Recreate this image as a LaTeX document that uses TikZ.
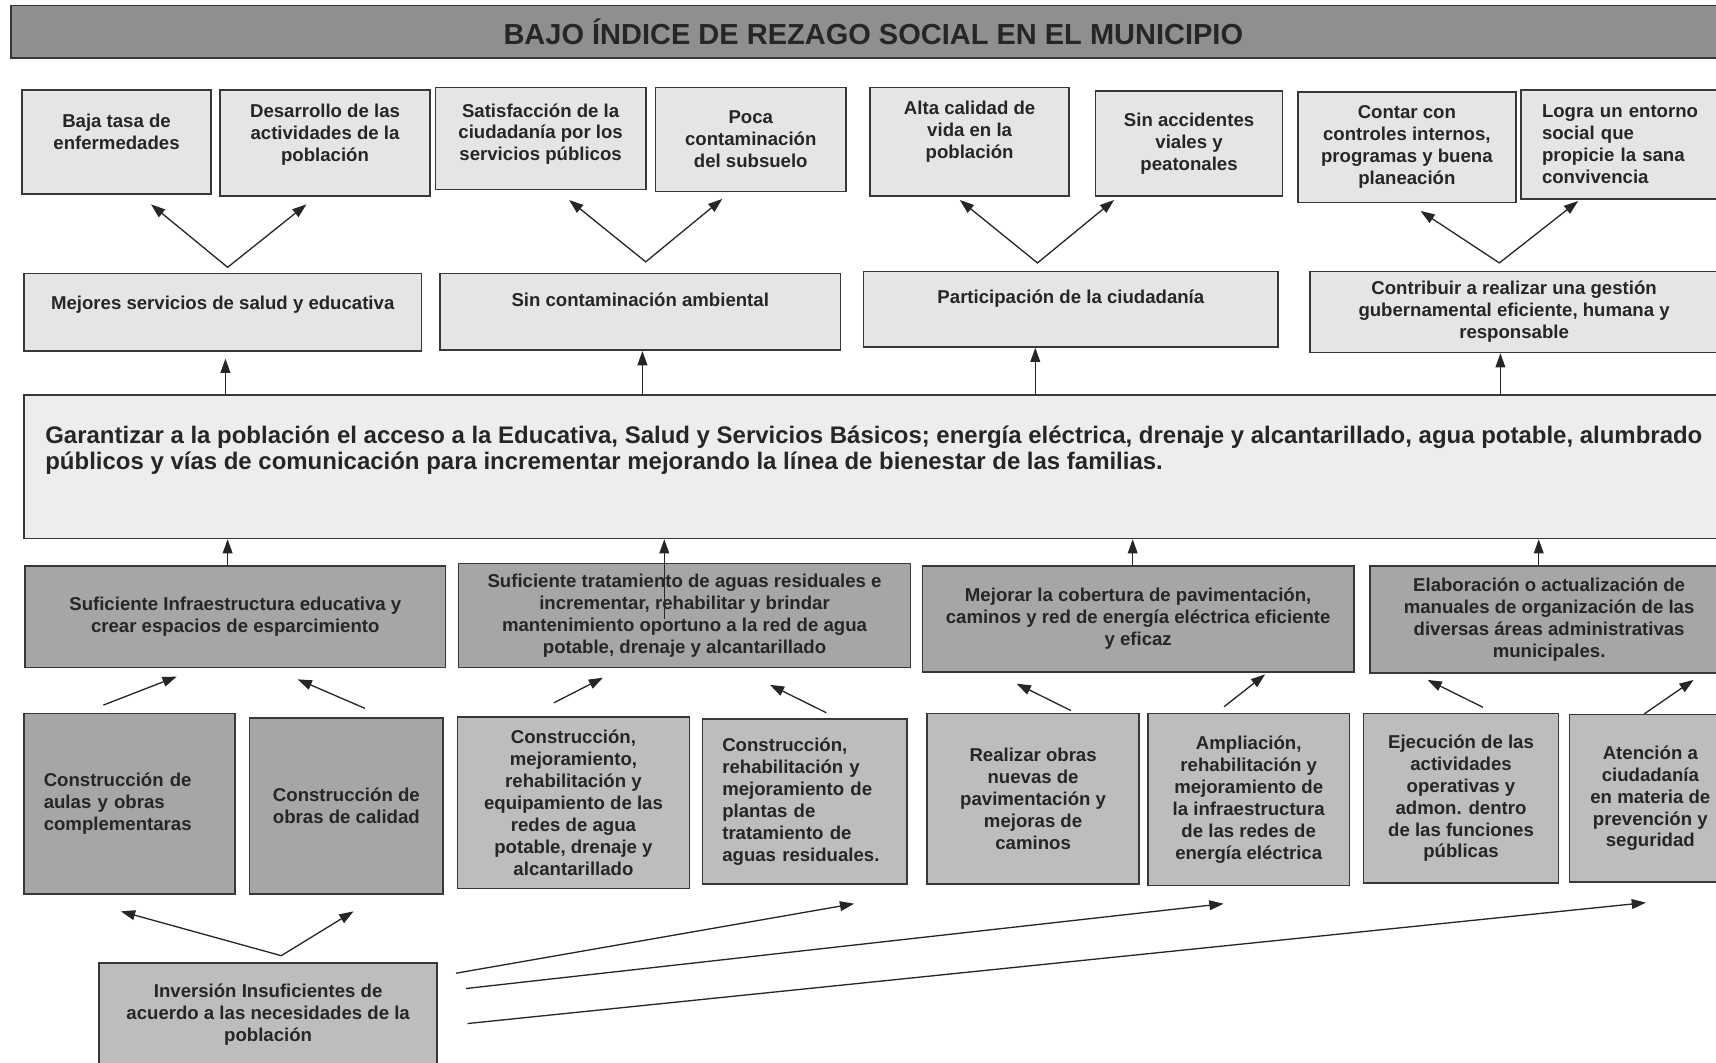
\documentclass[tikz,border=0pt]{standalone}
\usepackage{fontspec}
\setmainfont{Liberation Sans}
\usetikzlibrary{arrows.meta}

\definecolor{barfill}{gray}{0.56}
\definecolor{lightfill}{gray}{0.90}
\definecolor{mainfill}{gray}{0.93}
\definecolor{midfill}{gray}{0.65}
\definecolor{lowfill}{gray}{0.74}
\definecolor{edge}{gray}{0.22}

\begin{document}
\begin{tikzpicture}[x=1pt, y=-1pt,
    >={Triangle[length=13pt,width=9pt]},
    box/.style={draw=edge, line width=1.5pt, inner sep=2pt, align=center, text=black!85,
        font=\fontsize{17}{20}\selectfont\bfseries},
    effect/.style={box, fill=lightfill},
    cause/.style={box, fill=midfill},
    action/.style={box, fill=lowfill},
    lift/.style 2 args={text height=#1, text depth=#2},
    arr/.style={->, line width=1.2pt, draw=black!85}]
    \useasboundingbox (0,0) rectangle (1568,971);

    \node[box, fill=barfill, font=\fontsize{26.5}{30}\selectfont\bfseries, minimum width=1576pt, minimum height=48pt] (title) at (798,29) {BAJO ÍNDICE DE REZAGO SOCIAL EN EL MUNICIPIO};

    \node[effect, lift={32pt}{18pt}, minimum width=173pt, minimum height=95pt] (b1) at (106.5,129.5) {Baja tasa de\\enfermedades};
    \node[effect, lift={52pt}{18pt}, minimum width=192pt, minimum height=97pt] (b2) at (297,130.5) {Desarrollo de las\\actividades de la\\población};
    \node[effect, lift={52pt}{11pt}, minimum width=192pt, minimum height=93pt] (b3) at (494,126.5) {Satisfacción de la\\ciudadanía por los\\servicios públicos};
    \node[effect, minimum width=174pt, minimum height=95pt] (b4) at (686,127.5) {Poca\\contaminación\\del subsuelo};
    \node[effect, lift={52pt}{21pt}, minimum width=182pt, minimum height=99pt] (b5) at (886,129.5) {Alta calidad de\\vida en la\\población};
    \node[effect, minimum width=171pt, minimum height=96pt] (b6) at (1086.5,131) {Sin accidentes\\viales y\\peatonales};
    \node[effect, minimum width=199pt, minimum height=101pt] (b7) at (1285.5,134.5) {Contar con\\controles internos,\\programas y buena\\planeación};
    \node[effect, align=left, text width=148pt, minimum width=186pt, minimum height=100pt] (b8) at (1483,132) {Logra un entorno\\social que\\propicie la sana\\convivencia};

    \node[effect, lift={12pt}{18pt}, minimum width=363pt, minimum height=71pt] (m1) at (203.5,285.5) {Mejores servicios de salud y educativa};
    \node[effect, lift={12pt}{21pt}, minimum width=366pt, minimum height=70pt] (m2) at (585,285) {Sin contaminación ambiental};
    \node[effect, lift={12pt}{22pt}, minimum width=379pt, minimum height=69pt] (m3) at (978.5,282.5) {Participación de la ciudadanía};
    \node[effect, minimum width=373pt, minimum height=74pt] (m4) at (1383.5,285) {Contribuir a realizar una gestión\\gubernamental eficiente, humana y\\responsable};

    \node[effect, fill=mainfill, align=left, font=\fontsize{21.9}{24}\selectfont\bfseries, lift={40pt}{35pt}, minimum width=1553pt, minimum height=131pt] (g) at (798.5,426.5) {Garantizar a la población el acceso a la Educativa, Salud y Servicios Básicos; energía eléctrica, drenaje y alcantarillado, agua potable, alumbrado\\públicos y vías de comunicación para incrementar mejorando la línea de bienestar de las familias.};

    \node[cause, minimum width=384pt, minimum height=93pt] (s1) at (215,563.5) {Suficiente Infraestructura educativa y\\crear espacios de esparcimiento};
    \node[cause, minimum width=413pt, minimum height=95pt] (s2) at (625.5,562.5) {Suficiente tratamiento de aguas residuales e\\incrementar, rehabilitar y brindar\\mantenimiento oportuno a la red de agua\\potable, drenaje y alcantarillado};
    \node[cause, minimum width=394pt, minimum height=97pt] (s3) at (1040,565.5) {Mejorar la cobertura de pavimentación,\\caminos y red de energía eléctrica eficiente\\y eficaz};
    \node[cause, minimum width=327pt, minimum height=98pt] (s4) at (1415.5,566) {Elaboración o actualización de\\manuales de organización de las\\diversas áreas administrativas\\municipales.};

    \node[cause, align=left, text width=157pt, minimum width=193pt, minimum height=165pt] (a1) at (118.5,734.5) {Construcción de\\aulas y obras\\complementaras};
    \node[cause, minimum width=177pt, minimum height=161pt] (a2) at (316.5,736.5) {Construcción de\\obras de calidad};
    \node[action, minimum width=212pt, minimum height=157pt] (a3) at (524,733.5) {Construcción,\\mejoramiento,\\rehabilitación y\\equipamiento de las\\redes de agua\\potable, drenaje y\\alcantarillado};
    \node[action, align=left, text width=151pt, minimum width=187pt, minimum height=151pt] (a4) at (735.5,732.5) {Construcción,\\rehabilitación y\\mejoramiento de\\plantas de\\tratamiento de\\aguas residuales.};
    \node[action, minimum width=194pt, minimum height=156pt] (a5) at (944,730) {Realizar obras\\nuevas de\\pavimentación y\\mejoras de\\caminos};
    \node[action, minimum width=184pt, minimum height=157pt] (a6) at (1141,730.5) {Ampliación,\\rehabilitación y\\mejoramiento de\\la infraestructura\\de las redes de\\energía eléctrica};
    \node[action, minimum width=178pt, minimum height=155pt] (a7) at (1335,729.5) {Ejecución de las\\actividades\\operativas y\\admon. dentro\\de las funciones\\públicas};
    \node[action, minimum width=148pt, minimum height=153pt] (a8) at (1508,729.5) {Atención a\\ciudadanía\\en materia de\\prevención y\\seguridad};

    \node[action, minimum width=309pt, minimum height=94pt] (inv) at (245,927) {Inversión Insuficientes de\\acuerdo a las necesidades de la\\población};

    \draw[arr, <->] ([shift={(31.5,9)}]b1.south) -- ([shift={(4.5,-5)}]m1.north) -- ([shift={(-17,7)}]b2.south);
    \draw[arr, <->] ([shift={(26,9)}]b3.south) -- ([shift={(5,-10)}]m2.north) -- ([shift={(-26,6)}]b4.south);
    \draw[arr, <->] ([shift={(-9,3)}]b5.south) -- ([shift={(-30.5,-7)}]m3.north) -- ([shift={(-68.5,3)}]b6.south);
    \draw[arr, <->] ([shift={(12.5,7)}]b7.south) -- ([shift={(-13.5,-7)}]m4.north) -- ([shift={(-41,1)}]b8.south);

    \draw[arr, shorten >=6pt] ([xshift=2.5pt]m1.south |- g.north) -- ([xshift=2.5pt]m1.south);
    \draw[arr] ([xshift=2pt]m2.south |- g.north) -- ([xshift=2pt]m2.south);
    \draw[arr] ([xshift=-32.5pt]m3.south |- g.north) -- ([xshift=-32.5pt]m3.south);
    \draw[arr] ([xshift=-12.5pt]m4.south |- g.north) -- ([xshift=-12.5pt]m4.south);

    \draw[arr] ([xshift=-7pt]s1.north) -- ([xshift=-7pt]s1.north |- g.south);
    \draw[arr] ([shift={(-18.5,3)}]s2.center) -- ([xshift=-18.5pt]s2.center |- g.south);
    \draw[arr] ([xshift=-5pt]s3.north) -- ([xshift=-5pt]s3.north |- g.south);
    \draw[arr] ([xshift=-9.5pt]s4.north) -- ([xshift=-9.5pt]s4.north |- g.south);

    \draw[arr] ([shift={(-24,-7)}]a1.north) -- ([shift={(-53.5,7.5)}]s1.south);
    \draw[arr] ([shift={(17,-8)}]a2.north) -- ([shift={(57,10)}]s1.south);
    \draw[arr] ([shift={(-18,-12)}]a3.north) -- ([shift={(-74.5,8.5)}]s2.south);
    \draw[arr] ([shift={(19.5,-5)}]a4.north) -- ([shift={(78,15)}]s2.south);
    \draw[arr] ([shift={(34.5,-2)}]a5.north) -- ([shift={(-111,10)}]s3.south);
    \draw[arr] ([shift={(-22.5,-5.5)}]a6.north) -- ([shift={(116,1.5)}]s3.south);
    \draw[arr] ([shift={(20,-5)}]a7.north) -- ([shift={(-111,5.5)}]s4.south);
    \draw[arr] ([shift={(-5.5,0)}]a8.north) -- ([shift={(132,5.5)}]s4.south);

    \draw[arr, <->] ([shift={(-8,15)}]a1.south) -- ([shift={(12,-6)}]inv.north) -- ([shift={(6.5,15)}]a2.south);
    \draw[arr] ([shift={(16.5,10)}]inv.north east) -- ([shift={(45,17)}]a4.south);
    \draw[arr] ([shift={(25.5,24)}]inv.north east) -- ([shift={(-23,16)}]a6.south);
    \draw[arr] ([shift={(27,56)}]inv.north east) -- ([shift={(-4,18)}]a8.south);
\end{tikzpicture}
\end{document}
